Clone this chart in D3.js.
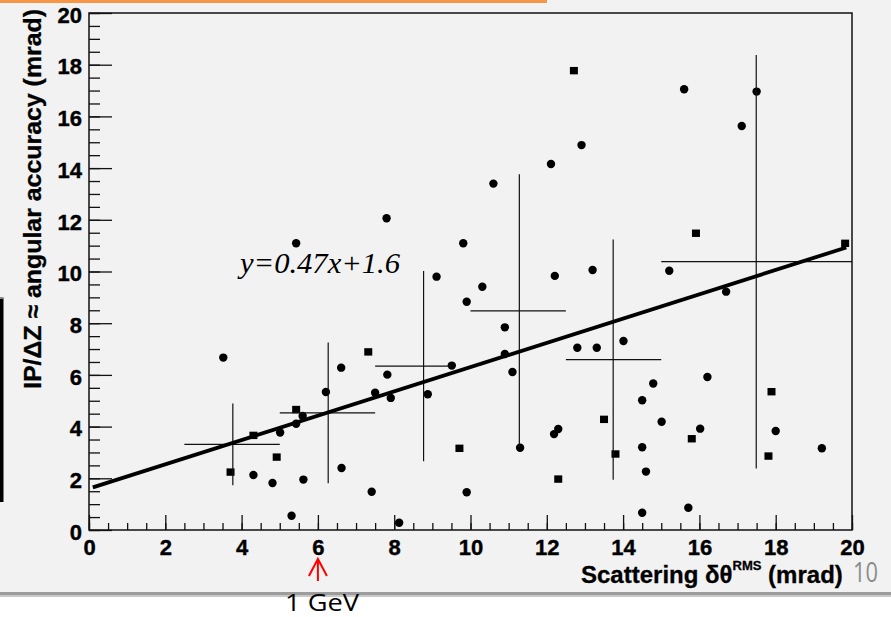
<!DOCTYPE html>
<html>
<head>
<meta charset="utf-8">
<script src="https://cdn.jsdelivr.net/npm/d3@7"></script>
<style>
  html, body { margin: 0; padding: 0; background: #ffffff; }
  svg { display: block; }
</style>
</head>
<body>
<svg id="chart" width="891" height="617"></svg>
<script>
// ---------------- data ----------------
const pointX = [3.52,3.71,4.31,4.31,4.81,4.92,5.01,5.31,5.43,5.43,5.60,5.62,6.21,6.61,6.62,7.32,7.41,7.50,7.82,7.91,8.13,8.88,
  5.43,7.80,10.60,9.81,9.11,10.31,9.90,9.51,10.90,11.10,9.71,9.90,11.30,12.80,13.31,14.01,12.30,12.19,12.30,13.50,13.80,
  14.79,14.50,15.01,14.50,14.60,14.50,16.21,16.02,15.80,15.71,17.89,18.00,17.81,19.21,12.71,15.60,17.50,17.11,12.91,12.11,
  15.91,19.82,12.21,13.20,15.21,16.70,10.90];
const pointY = [6.67,2.24,3.66,2.13,1.82,2.82,3.77,0.55,4.66,4.11,4.41,1.95,5.34,6.28,2.40,6.89,1.48,5.31,6.01,5.11,0.28,5.25,
  11.09,12.06,13.40,11.09,9.80,9.41,8.83,6.36,6.81,6.11,3.16,1.46,3.18,7.05,7.05,7.31,3.91,3.71,1.97,4.28,2.94,
  5.67,5.02,4.19,3.20,2.26,0.67,5.92,3.92,3.53,0.86,5.35,3.83,2.86,3.16,17.77,17.05,16.96,15.63,14.89,14.16,
  11.48,11.09,9.83,10.06,10.03,9.22,7.84];
const pointShape = ["c","s","s","c","c","s","c","c","s","c","c","c","c","c","c","s","c","c","c","c","c","c",
  "c","c","c","c","c","c","c","c","c","c","s","c","c","c","c","c","c","c","s","s","s",
  "c","c","c","c","c","c","c","c","s","c","s","c","s","c","s","c","c","c","c","c",
  "s","s","c","c","c","c","c"];

// profile bins
const binLo   = [2.5, 5.0, 7.5, 10.0, 12.5, 15.0];
const binHi   = [5.0, 7.5, 9.5, 12.5, 15.0, 20.0];
const binMean = [3.77, 6.27, 8.77, 11.28, 13.74, 17.49];
const binY    = [3.31, 4.53, 6.34, 8.48, 6.59, 10.38];
const binErr  = [1.58, 2.72, 3.68, 5.28, 4.65, 8.00];

// linear fit
const fitSlope = 0.47, fitIntercept = 1.6;
const fitRange = [0.1, 19.85];
const fitLabel = "y=0.47x+1.6";

const xTicks = [0,2,4,6,8,10,12,14,16,18,20];
const yTicks = [0,2,4,6,8,10,12,14,16,18,20];
const xTitle = "Scattering δθ", xTitleSup = "RMS", xTitleEnd = " (mrad)";
const yTitle = "IP/ΔZ ≈ angular accuracy (mrad)";

// ---------------- drawing ----------------
const svg = d3.select("#chart");
const L = 89, R = 852, T = 13, B = 530;
const x = d3.scaleLinear().domain([0, 20]).range([L, R]);
const y = d3.scaleLinear().domain([0, 20]).range([B, T]);

// background
svg.append("rect").attr("x",0).attr("y",0).attr("width",891).attr("height",595).attr("fill","#f2f2f2");
svg.append("rect").attr("x",0).attr("y",592).attr("width",891).attr("height",3).attr("fill","#9c9c9c");
svg.append("rect").attr("x",0).attr("y",595).attr("width",891).attr("height",2).attr("fill","#c8c8c8");
svg.append("rect").attr("x",0).attr("y",597).attr("width",891).attr("height",20).attr("fill","#ffffff");
// orange top line
svg.append("rect").attr("x",0).attr("y",0).attr("width",547).attr("height",3).attr("fill","#f79646");
// left black bar
svg.append("rect").attr("x",0).attr("y",298).attr("width",3.5).attr("height",204).attr("fill","#000");
svg.append("rect").attr("x",0).attr("y",297).attr("width",3.5).attr("height",2).attr("fill","#888");

// frame
svg.append("rect").attr("x",L).attr("y",T).attr("width",R-L).attr("height",B-T)
  .attr("fill","none").attr("stroke","#111").attr("stroke-width",1.5);

// y ticks (inside)
const minorY = d3.range(0, 20.001, 0.5);
svg.append("g").attr("transform",`translate(${L},0)`)
  .call(d3.axisRight(y).tickValues(minorY).tickSize(11).tickFormat(""))
  .call(g => g.select(".domain").remove())
  .call(g => g.selectAll("line").attr("stroke","#111").attr("stroke-width",1.3));
svg.append("g").attr("transform",`translate(${L},0)`)
  .call(d3.axisRight(y).tickValues(yTicks).tickSize(23).tickFormat(""))
  .call(g => g.select(".domain").remove())
  .call(g => g.selectAll("line").attr("stroke","#111").attr("stroke-width",1.3));
// y labels
svg.append("g").attr("transform",`translate(${L},0)`)
  .call(d3.axisLeft(y).tickValues(yTicks).tickSize(0).tickPadding(7).tickFormat(d3.format("d")))
  .call(g => g.select(".domain").remove())
  .call(g => g.selectAll("text").attr("font-family","'Liberation Sans', Arial, sans-serif")
     .attr("font-weight","bold").attr("font-size",22).attr("fill","#000").attr("dy","0.42em")
     .attr("stroke","#000").attr("stroke-width",0.4));

// x ticks (inside)
const minorX = d3.range(0, 20.001, 0.5);
svg.append("g").attr("transform",`translate(0,${B})`)
  .call(d3.axisTop(x).tickValues(minorX).tickSize(7).tickFormat(""))
  .call(g => g.select(".domain").remove())
  .call(g => g.selectAll("line").attr("stroke","#111").attr("stroke-width",1.3));
svg.append("g").attr("transform",`translate(0,${B})`)
  .call(d3.axisTop(x).tickValues(xTicks).tickSize(15).tickFormat(""))
  .call(g => g.select(".domain").remove())
  .call(g => g.selectAll("line").attr("stroke","#111").attr("stroke-width",1.3));
svg.append("g").attr("transform",`translate(0,${B})`)
  .call(d3.axisBottom(x).tickValues(xTicks).tickSize(0).tickPadding(9).tickFormat(d3.format("d")))
  .call(g => g.select(".domain").remove())
  .call(g => g.selectAll("text").attr("font-family","'Liberation Sans', Arial, sans-serif")
     .attr("font-weight","bold").attr("font-size",22).attr("fill","#000")
     .attr("stroke","#000").attr("stroke-width",0.4));

// axis titles
const xt = svg.append("text").attr("x",581).attr("y",583)
  .attr("font-family","'Liberation Sans', Arial, sans-serif").attr("font-weight","bold")
  .attr("font-size",24).attr("fill","#000").attr("stroke","#000").attr("stroke-width",0.3);
xt.append("tspan").text(xTitle);
xt.append("tspan").text(xTitleSup).attr("font-size",13).attr("dy",-13);
xt.append("tspan").text(xTitleEnd).attr("dy",13);

svg.append("text")
  .attr("transform","translate(41,199) rotate(-90)")
  .attr("text-anchor","middle")
  .attr("font-family","'Liberation Sans', Arial, sans-serif").attr("font-weight","bold")
  .attr("font-size",24).attr("fill","#000").attr("stroke","#000").attr("stroke-width",0.3)
  .attr("textLength",380).attr("lengthAdjust","spacingAndGlyphs")
  .text(yTitle);

// points
const pts = pointX.map((v,i) => ({x:v, y:pointY[i], s:pointShape[i]}));
svg.append("g").selectAll("circle").data(pts.filter(p => p.s === "c")).join("circle")
  .attr("cx", d => x(d.x)).attr("cy", d => y(d.y)).attr("r", 4.2).attr("fill","#000");
svg.append("g").selectAll("rect").data(pts.filter(p => p.s === "s")).join("rect")
  .attr("x", d => x(d.x) - 4).attr("y", d => y(d.y) - 3.7).attr("width", 8).attr("height", 7.4).attr("fill","#000");

// profile bins (error crosses)
const bins = binLo.map((v,i) => ({lo:v, hi:binHi[i], m:binMean[i], y:binY[i], e:binErr[i]}));
const gb = svg.append("g").attr("stroke","#111").attr("stroke-width",1.2);
gb.selectAll(".h").data(bins).join("line").attr("class","h")
  .attr("x1", d => x(d.lo)).attr("x2", d => x(d.hi)).attr("y1", d => y(d.y)).attr("y2", d => y(d.y));
gb.selectAll(".v").data(bins).join("line").attr("class","v")
  .attr("x1", d => x(d.m)).attr("x2", d => x(d.m)).attr("y1", d => y(d.y - d.e)).attr("y2", d => y(d.y + d.e));

// fit line
const line = d3.line().x(d => x(d)).y(d => y(fitSlope * d + fitIntercept));
svg.append("path").datum(fitRange).attr("d", line)
  .attr("fill","none").attr("stroke","#000").attr("stroke-width",3.8);

svg.append("text").attr("x",240).attr("y",273)
  .attr("font-family","'Liberation Serif', 'Times New Roman', serif").attr("font-style","italic")
  .attr("font-size",29).attr("fill","#000")
  .attr("textLength",160).attr("lengthAdjust","spacingAndGlyphs")
  .text(fitLabel);

// red arrow at 6 mrad
const ax = x(6);
const ga = svg.append("g").attr("stroke","#ff0000").attr("stroke-width",2).attr("fill","none");
ga.append("line").attr("x1",ax).attr("x2",ax).attr("y1",559).attr("y2",581);
ga.append("path").attr("d",`M${ax-9},${576} L${ax},${559} L${ax+9},${576}`);

svg.append("text").attr("x",322).attr("y",611).attr("text-anchor","middle")
  .attr("font-family","'Open Sans', sans-serif").attr("font-size",23).attr("fill","#000")
  .attr("textLength",74).attr("lengthAdjust","spacingAndGlyphs")
  .text("1 GeV");

svg.append("text").attr("x",853).attr("y",582)
  .attr("font-family","'Open Sans', sans-serif").attr("font-size",27).attr("fill","#8c8c8c")
  .attr("textLength",25).attr("lengthAdjust","spacingAndGlyphs")
  .text("10");
</script>
</body>
</html>
